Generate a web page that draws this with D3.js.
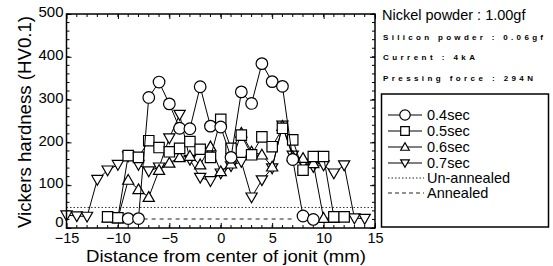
<!DOCTYPE html>
<html lang="en">
  <head>
    <meta charset="UTF-8" />
    <title>Vickers hardness profile</title>
    <script src="https://d3js.org/d3.v7.min.js"></script>
    <style>
      body {
        margin: 0;
        background: #fff;
        font-family: "Liberation Sans", Arial, sans-serif;
      }
      .frame {
        fill: none;
        stroke: #000;
        stroke-width: 1.5px;
      }
      .axis path {
        display: none;
      }
      .axis line,
      .minor line {
        stroke: #000;
        stroke-width: 1px;
      }
      .axis text {
        font-family: "Liberation Sans", Arial, sans-serif;
        font-size: 15px;
        fill: #000;
      }
      .axis.xb text {
        font-size: 14.5px;
      }
      .series {
        fill: none;
        stroke: #000;
        stroke-width: 1px;
      }
      .marker {
        fill: #fff;
        stroke: #000;
        stroke-width: 1.2px;
      }
    </style>
  </head>
  <body>
    <script>
      // distance (mm) and hardness (HV0.1) for each pulse time
      var pos04 = [-9, -8, -7, -6, -5, -4, -3, -2, -1, 0, 1, 2, 3, 4, 5, 6, 7, 8, 9];
      var hv04 = [22, 22, 305, 341, 290, 233, 232, 330, 238, 236, 165, 318, 291, 384, 342, 331, 160, 28, 20];

      var pos05 = [-11, -10, -9, -8, -7, -6, -5, -4, -3, -2, -1, 0, 1, 2, 3, 4, 5, 6, 7, 8, 9, 10, 11, 12];
      var hv05 = [26, 24, 169, 165, 204, 188, 178, 186, 202, 184, 165, 254, 186, 217, 171, 213, 190, 233, 206, 135, 167, 167, 26, 26];

      var pos06 = [-11, -10, -9, -8, -7, -6, -5, -4, -3, -2, -1, 0, 1, 2, 3, 4, 5, 6, 7, 8, 9, 10, 11];
      var hv06 = [24, 22, 112, 90, 72, 135, 152, 165, 168, 148, 190, 132, 150, 222, 178, 171, 143, 238, 167, 163, 151, 23, 23];

      var pos07 = [-15, -14, -13, -12, -11, -10, -9, -8, -7, -6, -5, -4, -3, -2, -1, 0, 1, 2, 3, 4, 5, 6, 7, 8, 9, 10, 11, 12, 13, 14];
      var hv07 = [30, 28, 27, 113, 135, 148, 168, 148, 133, 142, 210, 265, 160, 118, 110, 128, 145, 155, 72, 112, 140, 240, 170, 151, 143, 147, 128, 147, 23, 22];

      var seriesNames = ["0.4sec", "0.5sec", "0.6sec", "0.7sec"];
      var seriesShapes = ["circle", "square", "up", "down"];

      var unannealedHV = 48;
      var annealedHV = 21;
      var annealedRange = [-7.5, 7];

      var xTicks = [-15, -10, -5, 0, 5, 10, 15];
      var yTicks = [0, 100, 200, 300, 400, 500];

      var notes = [
        "Silicon powder : 0.06gf",
        "Current : 4kA",
        "Pressing force : 294N",
      ];

      var series = [
        { name: seriesNames[0], shape: seriesShapes[0], pos: pos04, hv: hv04 },
        { name: seriesNames[1], shape: seriesShapes[1], pos: pos05, hv: hv05 },
        { name: seriesNames[2], shape: seriesShapes[2], pos: pos06, hv: hv06 },
        { name: seriesNames[3], shape: seriesShapes[3], pos: pos07, hv: hv07 },
      ];

      var width = 553,
        height = 266;
      var plot = { left: 66.5, right: 375, top: 14, bottom: 228 };

      var svg = d3
        .select("body")
        .append("svg")
        .attr("width", width)
        .attr("height", height);

      var x = d3.scaleLinear().domain([-15, 15]).range([plot.left, plot.right]);
      var y = d3.scaleLinear().domain([0, 500]).range([plot.bottom, plot.top]);

      // marker path generator, centred on 0,0
      function shapePath(shape, s) {
        if (shape == "circle") {
          return d3.symbol().type(d3.symbolCircle).size(Math.PI * s * s)();
        }
        if (shape == "square") {
          return "M" + -s + "," + -s + "H" + s + "V" + s + "H" + -s + "Z";
        }
        if (shape == "up") {
          return "M0," + -s + "L" + s + "," + s * 0.75 + "L" + -s + "," + s * 0.75 + "Z";
        }
        return "M0," + s + "L" + s + "," + -s * 0.75 + "L" + -s + "," + -s * 0.75 + "Z";
      }
      var markerSize = { circle: 5.8, square: 5.2, up: 5.6, down: 5.6 };

      // reference lines
      svg
        .append("line")
        .attr("x1", x(-15))
        .attr("x2", x(15))
        .attr("y1", y(unannealedHV))
        .attr("y2", y(unannealedHV))
        .attr("stroke", "#333")
        .attr("stroke-width", 1)
        .attr("stroke-dasharray", "1.5,2");
      svg
        .append("line")
        .attr("x1", x(annealedRange[0]))
        .attr("x2", x(annealedRange[1]))
        .attr("y1", y(annealedHV))
        .attr("y2", y(annealedHV))
        .attr("stroke", "#222")
        .attr("stroke-width", 1.2)
        .attr("stroke-dasharray", "4,4");

      // axes with inward ticks on all four sides
      svg
        .append("g")
        .attr("class", "axis xb")
        .attr("transform", "translate(0," + plot.bottom + ")")
        .call(d3.axisBottom(x).tickValues(xTicks).tickSizeInner(-5).tickPadding(5));
      svg
        .append("g")
        .attr("class", "axis")
        .attr("transform", "translate(" + plot.left + ",0)")
        .call(d3.axisLeft(y).tickValues(yTicks).tickSizeInner(-5).tickPadding(3))
        .selectAll("text")
        .attr("dy", function (d) {
          return d == 0 ? "-0.12em" : "0.18em";
        });
      svg
        .append("g")
        .attr("class", "axis")
        .attr("transform", "translate(0," + plot.top + ")")
        .call(d3.axisTop(x).tickValues(xTicks).tickSizeInner(-5).tickFormat(""));
      svg
        .append("g")
        .attr("class", "axis")
        .attr("transform", "translate(" + plot.right + ",0)")
        .call(d3.axisRight(y).tickValues(yTicks).tickSizeInner(-5).tickFormat(""));

      var minorX = d3.range(-15, 16, 1);
      var minorY = d3.range(0, 501, 20);
      var minor = svg.append("g").attr("class", "minor");
      minor
        .selectAll(".mxb")
        .data(minorX)
        .enter()
        .append("line")
        .attr("x1", x)
        .attr("x2", x)
        .attr("y1", plot.bottom)
        .attr("y2", plot.bottom - 3);
      minor
        .selectAll(".mxt")
        .data(minorX)
        .enter()
        .append("line")
        .attr("x1", x)
        .attr("x2", x)
        .attr("y1", plot.top)
        .attr("y2", plot.top + 3);
      minor
        .selectAll(".myl")
        .data(minorY)
        .enter()
        .append("line")
        .attr("y1", y)
        .attr("y2", y)
        .attr("x1", plot.left)
        .attr("x2", plot.left + 3);
      minor
        .selectAll(".myr")
        .data(minorY)
        .enter()
        .append("line")
        .attr("y1", y)
        .attr("y2", y)
        .attr("x1", plot.right)
        .attr("x2", plot.right - 3);

      // data series, drawn back to front
      var line = d3
        .line()
        .x(function (d) {
          return x(d[0]);
        })
        .y(function (d) {
          return y(d[1]);
        });

      series
        .slice()
        .reverse()
        .forEach(function (s) {
          var pts = d3.zip(s.pos, s.hv);
          var g = svg.append("g");
          g.append("path").attr("class", "series").attr("d", line(pts));
          g.selectAll(".marker")
            .data(pts)
            .enter()
            .append("path")
            .attr("class", "marker")
            .attr("d", shapePath(s.shape, markerSize[s.shape]))
            .attr("transform", function (d) {
              return "translate(" + x(d[0]) + "," + y(d[1]) + ")";
            });
        });

      svg
        .append("rect")
        .attr("class", "frame")
        .attr("x", plot.left)
        .attr("y", plot.top)
        .attr("width", plot.right - plot.left)
        .attr("height", plot.bottom - plot.top);

      // axis titles
      svg
        .append("text")
        .attr("transform", "translate(31," + (plot.top + plot.bottom + 2) / 2 + ") rotate(-90)")
        .attr("text-anchor", "middle")
        .attr("textLength", 212)
        .attr("lengthAdjust", "spacingAndGlyphs")
        .style("font-size", "17.5px")
        .text("Vickers hardness (HV0.1)");
      svg
        .append("text")
        .attr("x", 226)
        .attr("y", 261.5)
        .attr("text-anchor", "middle")
        .attr("textLength", 280)
        .attr("lengthAdjust", "spacingAndGlyphs")
        .style("font-size", "17px")
        .text("Distance from center of jonit (mm)");

      // conditions text
      svg
        .append("text")
        .attr("x", 382)
        .attr("y", 20)
        .style("font-size", "14.5px")
        .text("Nickel powder : 1.00gf");
      var noteY = [40, 60, 81];
      var noteW = [160, 92, 150];
      notes.forEach(function (t, i) {
        svg
          .append("text")
          .attr("x", 383)
          .attr("y", noteY[i])
          .attr("textLength", noteW[i])
          .attr("lengthAdjust", "spacing")
          .style("font-size", "8px")
          .style("font-weight", "bold")
          .text(t);
      });

      // legend
      var legend = svg.append("g");
      legend
        .append("rect")
        .attr("x", 381.5)
        .attr("y", 94)
        .attr("width", 167)
        .attr("height", 133)
        .attr("fill", "#fff")
        .attr("stroke", "#000")
        .attr("stroke-width", 1.5);

      var rowY = [115, 131, 147, 163, 178, 193];
      series.forEach(function (s, i) {
        var row = legend.append("g").attr("transform", "translate(0," + rowY[i] + ")");
        row
          .append("line")
          .attr("x1", 388)
          .attr("x2", 422)
          .attr("stroke", "#000")
          .attr("stroke-width", 1.2);
        row
          .append("path")
          .attr("class", "marker")
          .attr("transform", "translate(405,0)")
          .attr("d", shapePath(s.shape, s.shape == "circle" ? 5.2 : 4.3));
        row
          .append("text")
          .attr("x", 427)
          .attr("dy", "0.35em")
          .style("font-size", "14.5px")
          .text(s.name);
      });
      var refRows = [
        { name: "Un-annealed", dash: "1.5,2", y: rowY[4] },
        { name: "Annealed", dash: "4,3", y: rowY[5] },
      ];
      refRows.forEach(function (r) {
        legend
          .append("line")
          .attr("x1", 388)
          .attr("x2", 424)
          .attr("y1", r.y)
          .attr("y2", r.y)
          .attr("stroke", "#222")
          .attr("stroke-width", 1)
          .attr("stroke-dasharray", r.dash);
        legend
          .append("text")
          .attr("x", 427)
          .attr("y", r.y)
          .attr("dy", "0.35em")
          .style("font-size", "14.5px")
          .text(r.name);
      });
    </script>
  </body>
</html>
